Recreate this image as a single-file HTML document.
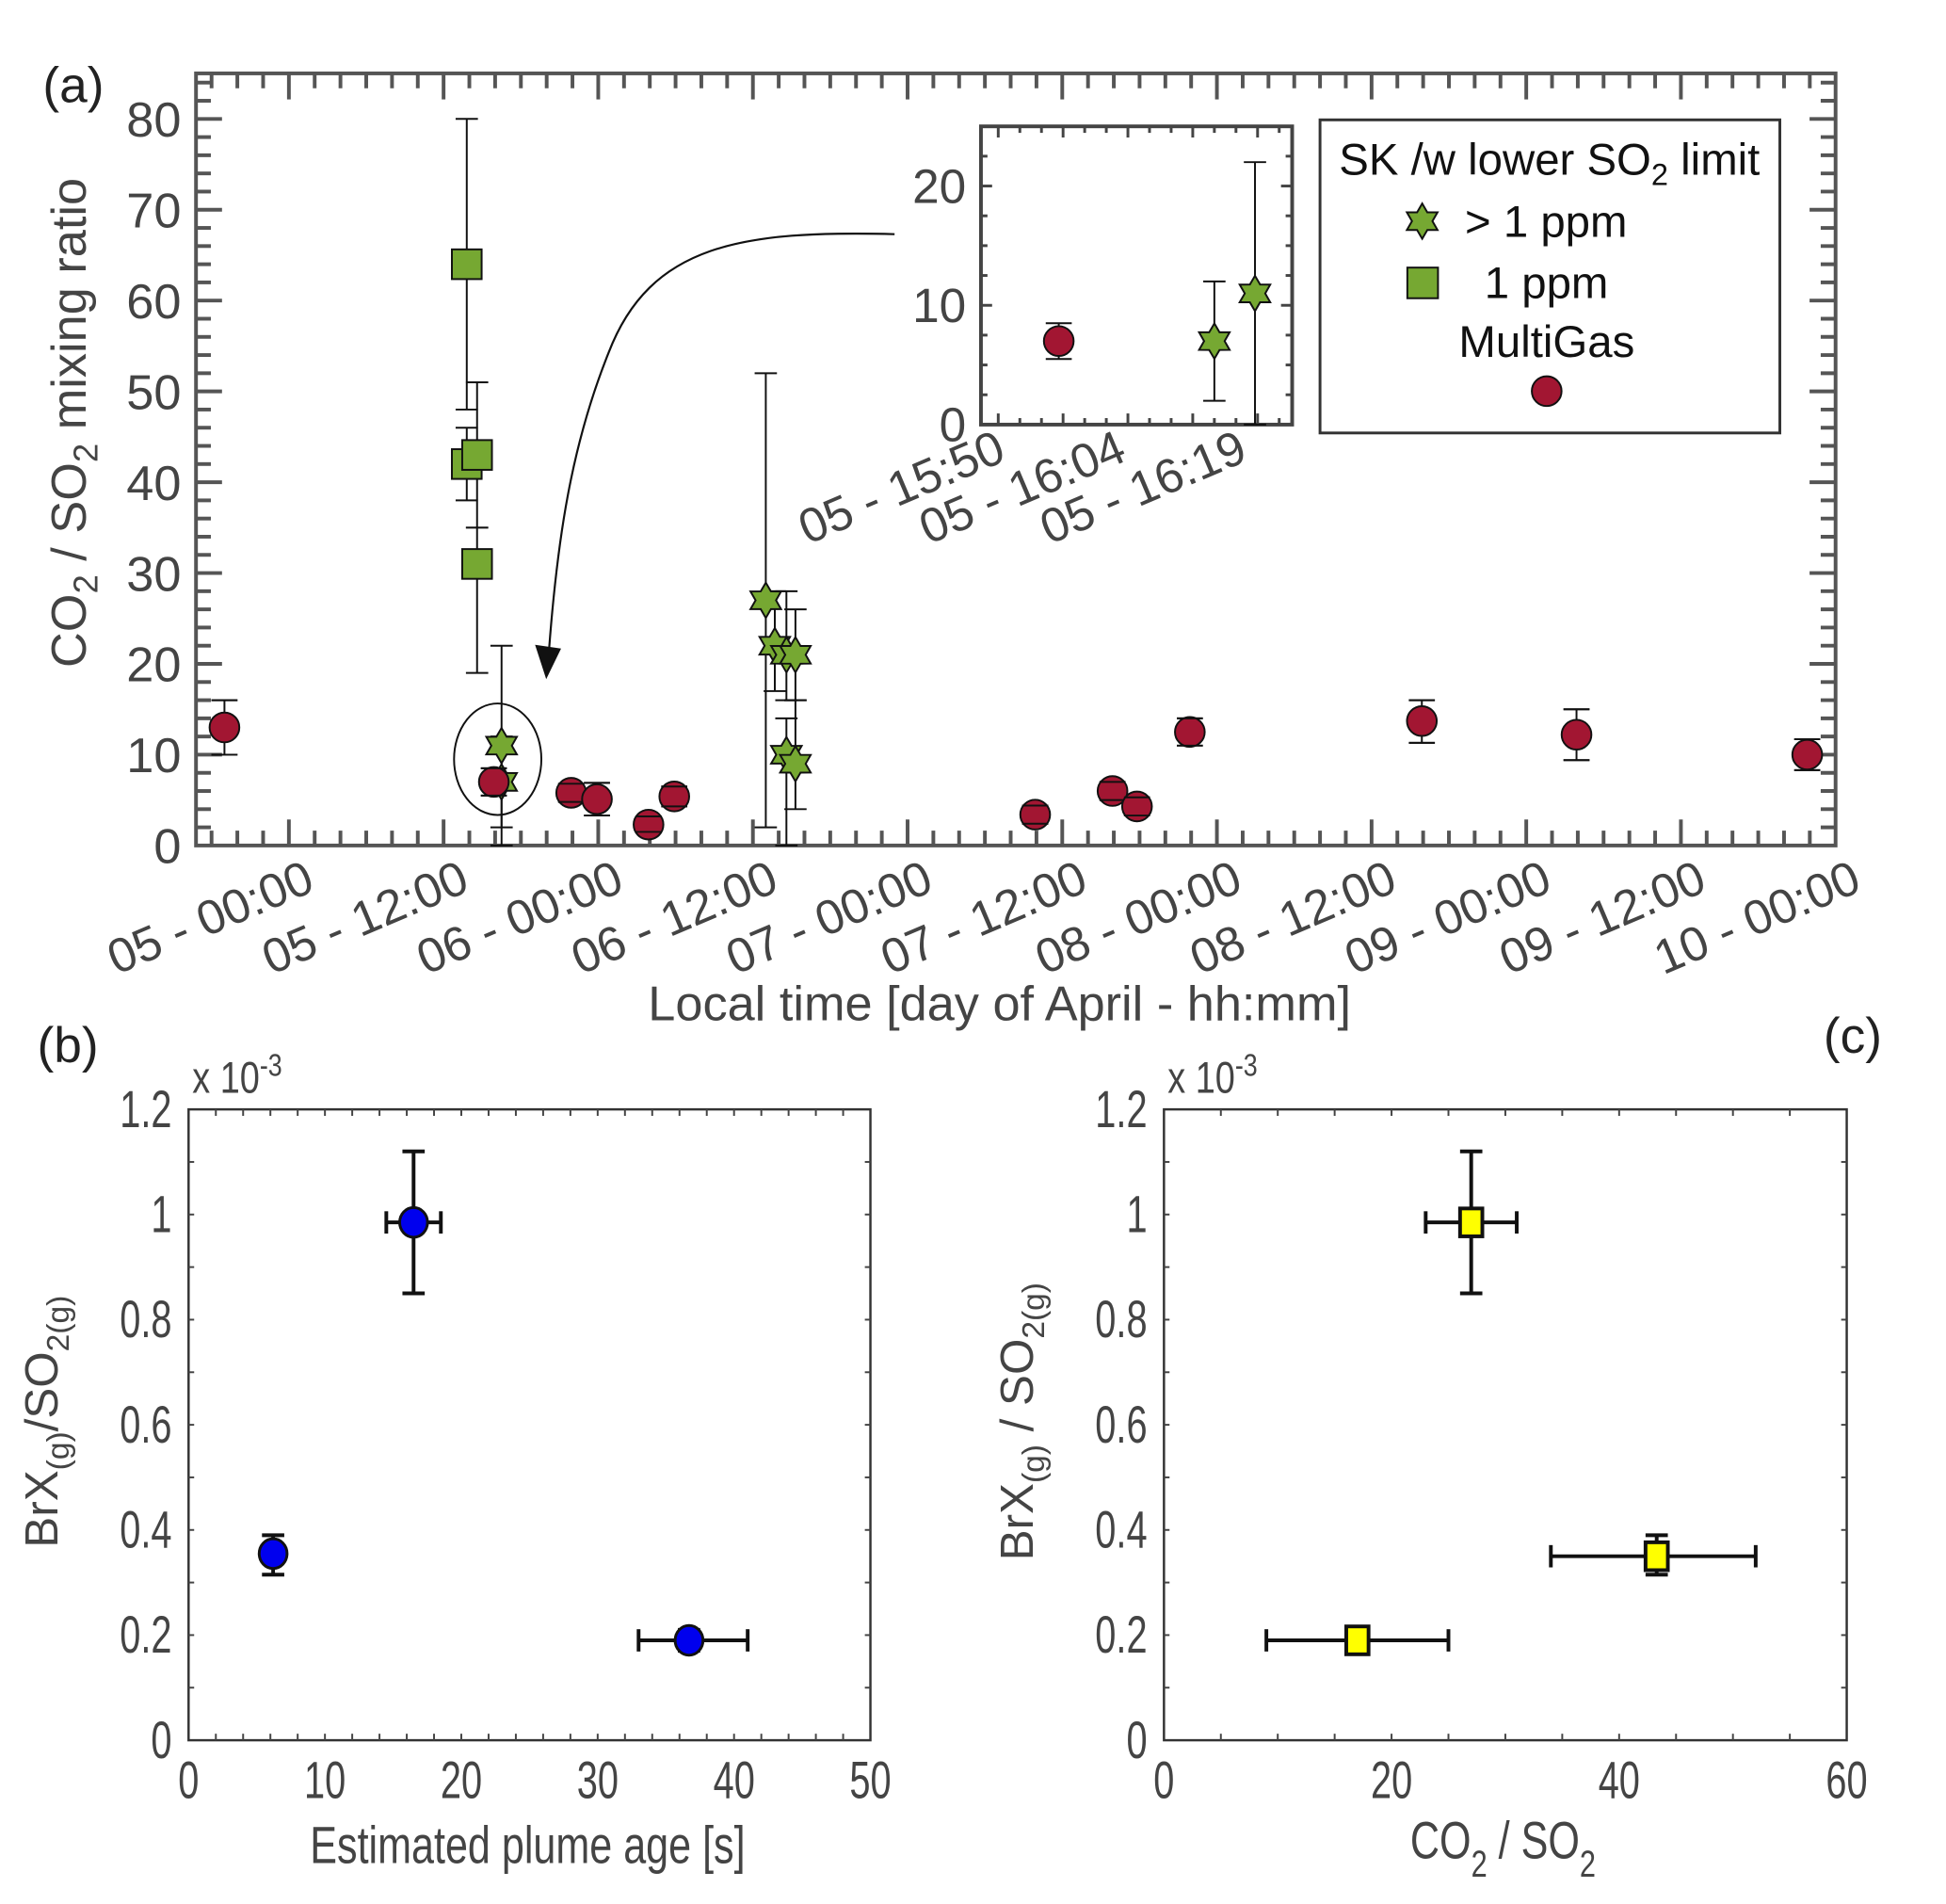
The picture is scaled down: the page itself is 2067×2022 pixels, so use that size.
<!DOCTYPE html>
<html><head><meta charset="utf-8"><style>
html,body{margin:0;padding:0;background:#fff}
svg{display:block}
text{font-family:"Liberation Sans",sans-serif}
.narrow{font-family:"Liberation Sans Narrow","Liberation Sans",sans-serif}
</style></head><body>
<svg id="fig" width="2067" height="2022" viewBox="0 0 2067 2022" xmlns="http://www.w3.org/2000/svg">
<g transform="scale(0.9867)">
<g id="gA"></g>
<g id="gI"></g>
<g id="gB"></g>
<g id="gC"></g>
</g>
</svg>
<script>
// ---- Panel (a) data: hours since 05 April 00:00 ----
const redHours = [-5.0, 15.9, 21.9, 23.9, 27.9, 29.9, 57.9, 63.9, 65.8, 69.9, 87.9, 99.9, 117.8];
const redVals  = [13, 7, 5.8, 5.1, 2.3, 5.4, 3.4, 6.0, 4.3, 12.5, 13.7, 12.2, 10.0];
const redLo    = [10, 5.5, 4.8, 3.3, 1.5, 4.3, 2.4, 5.0, 3.3, 11, 11.3, 9.4, 8.3];
const redHi    = [16, 8.5, 6.8, 6.9, 3.2, 6.5, 4.4, 7.0, 5.3, 14, 16, 15, 11.7];
const sqHours  = [13.8, 13.8, 14.6, 14.6];
const sqVals   = [64, 42, 43, 31];
const sqLo     = [48, 38, 35, 19];
const sqHi     = [80, 46, 51, 35];
const starHours= [16.5, 16.5, 37.0, 37.7, 38.6, 39.3, 38.6, 39.3];
const starVals = [7, 11, 27, 22, 21, 21, 10, 9];
const starLo   = [2, 0, 2, 17, 16, 16, 0, 4];
const starHi   = [12, 22, 52, 28, 28, 26, 14, 16];
const xTickLabels = ["05 - 00:00","05 - 12:00","06 - 00:00","06 - 12:00","07 - 00:00","07 - 12:00","08 - 00:00","08 - 12:00","09 - 00:00","09 - 12:00","10 - 00:00"];
const yTicksA = [0,10,20,30,40,50,60,70,80];
// ---- Inset data: minutes after 15:45 on 05 April ----
const insetRedMin = [9];
const insetRedVal = [7]; const insetRedLo=[5.5]; const insetRedHi=[8.5];
const insetStarMin = [27, 31.7];
const insetStarVal = [7, 11]; const insetStarLo=[2, 0]; const insetStarHi=[12, 22];
const insetXTickMin = [5, 19, 34];
const insetXTickLabels = ["05 - 15:50","05 - 16:04","05 - 16:19"];
const insetYTicks = [0,10,20];
// ---- Panel (b) ----
const bAge = [6.2, 16.5, 36.7];
const bAgeLo=[5.6, 14.5, 33]; const bAgeHi=[6.8, 18.5, 41];
const bRatio=[0.355, 0.985, 0.19];
const bRatioLo=[0.315, 0.85, 0.17]; const bRatioHi=[0.39, 1.12, 0.21];
const bXTicks=[0,10,20,30,40,50];
const yTicksB=[0,0.2,0.4,0.6,0.8,1,1.2];
const yTickLabelsB=["0","0.2","0.4","0.6","0.8","1","1.2"];
// ---- Panel (c) ----
const cCO2=[27, 43.3, 17];
const cCO2Lo=[23, 34, 9]; const cCO2Hi=[31, 52, 25];
const cRatio=[0.985, 0.35, 0.19];
const cRatioLo=[0.85, 0.315, 0.17]; const cRatioHi=[1.12, 0.39, 0.21];
const cXTicks=[0,20,40,60];

const NS="http://www.w3.org/2000/svg";
function mk(parent,tag,attrs,txt){const e=document.createElementNS(NS,tag);for(const k in attrs)e.setAttribute(k,attrs[k]);if(txt!==undefined)e.textContent=txt;parent.appendChild(e);return e;}

// ===== Panel A =====
const A={l:211,r:1976,t:79,b:910};
const xA=h=>311+h*166.5/12;
const yA=v=>910-v*9.775;
const gA=document.getElementById('gA');
let el;
el=mk(gA,'rect',{x:A.l,y:A.t,width:A.r-A.l,height:A.b-A.t,fill:'none',stroke:'#555','stroke-width':4});


for(let h=-6;h<=120;h+=2){const x=xA(h);if(x<A.l+2||x>A.r-2)continue;const L=(h%12===0)?28:16;
 mk(gA,'line',{x1:x,x2:x,y1:A.b,y2:A.b-L,stroke:'#555','stroke-width':4});
 mk(gA,'line',{x1:x,x2:x,y1:A.t,y2:A.t+L,stroke:'#555','stroke-width':4});}
for(let v=2;v<=84;v+=2){const y=yA(v);const L=(v%10===0)?28:16;
 mk(gA,'line',{x1:A.l,x2:A.l+L,y1:y,y2:y,stroke:'#555','stroke-width':4});
 mk(gA,'line',{x1:A.r,x2:A.r-L,y1:y,y2:y,stroke:'#555','stroke-width':4});}
yTicksA.forEach(v=>{el=mk(gA,'text',{x:A.l-16,y:yA(v)+19,'text-anchor':'end','font-size':53,fill:'#444'},String(v));
 
 });
xTickLabels.forEach((s,i)=>{const x=xA(i*12)+30,y=A.b+48;
 el=mk(gA,'text',{x:x,y:y,'text-anchor':'end','font-size':52,fill:'#444',transform:`rotate(-23 ${x} ${y})`},s);
 
 });
el=mk(gA,'text',{x:1076,y:1098,'text-anchor':'middle','font-size':53,fill:'#444'},'Local time [day of April - hh:mm]');


el=mk(gA,'text',{x:0,y:0,'text-anchor':'middle','font-size':53,fill:'#444',transform:'translate(92 455) rotate(-90)'});


el.innerHTML='CO<tspan font-size="37" dy="13">2</tspan><tspan dy="-13"> / SO</tspan><tspan font-size="37" dy="13">2</tspan><tspan dy="-13"> mixing ratio</tspan>';
el=mk(gA,'text',{x:46,y:110,'font-size':54,fill:'#222'},'(a)');



function errV(g,x,lo,hi,w,sw){mk(g,'line',{x1:x,x2:x,y1:lo,y2:hi,stroke:'#111','stroke-width':sw});
 mk(g,'line',{x1:x-w,x2:x+w,y1:lo,y2:lo,stroke:'#111','stroke-width':sw});
 mk(g,'line',{x1:x-w,x2:x+w,y1:hi,y2:hi,stroke:'#111','stroke-width':sw});}
function errH(g,y,lo,hi,w,sw){mk(g,'line',{x1:lo,x2:hi,y1:y,y2:y,stroke:'#111','stroke-width':sw});
 mk(g,'line',{x1:lo,x2:lo,y1:y-w,y2:y+w,stroke:'#111','stroke-width':sw});
 mk(g,'line',{x1:hi,x2:hi,y1:y-w,y2:y+w,stroke:'#111','stroke-width':sw});}
function starPts(cx,cy,R){let p=[];for(let k=0;k<12;k++){const r=k%2?R*0.58:R;const a=-Math.PI/2+k*Math.PI/6;p.push((cx+r*Math.cos(a)).toFixed(1)+','+(cy+r*Math.sin(a)).toFixed(1));}return p.join(' ');}

el=mk(gA,'ellipse',{cx:xA(16.2),cy:yA(9.5),rx:47,ry:60,fill:'none',stroke:'#111','stroke-width':2});


el=mk(gA,'path',{d:'M963,252 C800,248 700,262 655,380 C615,480 600,580 591,700',fill:'none',stroke:'#111','stroke-width':2.2});


mk(gA,'polygon',{points:'588,731 576,694 604,698',fill:'#111'});

sqHours.forEach((h,i)=>{const x=xA(h);errV(gA,x,yA(sqLo[i]),yA(sqHi[i]),12,2);});
starHours.forEach((h,i)=>{const x=xA(h);errV(gA,x,yA(starLo[i]),yA(starHi[i]),12,2);});
redHours.forEach((h,i)=>{const x=xA(h);errV(gA,x,yA(redLo[i]),yA(redHi[i]),14,2);});
sqHours.forEach((h,i)=>{el=mk(gA,'rect',{x:xA(h)-16,y:yA(sqVals[i])-16,width:32,height:32,fill:'#76a832',stroke:'#111','stroke-width':2});
 
 });
starHours.forEach((h,i)=>{el=mk(gA,'polygon',{points:starPts(xA(h),yA(starVals[i]),19),fill:'#76a832',stroke:'#111','stroke-width':2});
 
 });
redHours.forEach((h,i)=>{el=mk(gA,'circle',{cx:xA(h),cy:yA(redVals[i]),r:16,fill:'#a21632',stroke:'#111','stroke-width':2});
 
 
 mk(gA,'line',{x1:xA(h)-14,x2:xA(h)+14,y1:yA(redLo[i]),y2:yA(redLo[i]),stroke:'#111','stroke-width':2});
 mk(gA,'line',{x1:xA(h)-14,x2:xA(h)+14,y1:yA(redHi[i]),y2:yA(redHi[i]),stroke:'#111','stroke-width':2});});

// legend
const gL=mk(gA,'g',{});


mk(gL,'rect',{x:1421,y:129,width:495,height:337,fill:'#fff',stroke:'#333','stroke-width':3});
el=mk(gL,'text',{x:1668,y:188,'text-anchor':'middle','font-size':48,fill:'#111'});
el.innerHTML='SK /w lower SO<tspan font-size="33" dy="11">2</tspan><tspan dy="-11"> limit</tspan>';


mk(gL,'polygon',{points:starPts(1531,238,19),fill:'#76a832',stroke:'#111','stroke-width':2});
el=mk(gL,'text',{x:1577,y:255,'font-size':48,fill:'#111'},'> 1 ppm');


mk(gL,'rect',{x:1515,y:288,width:33,height:33,fill:'#76a832',stroke:'#111','stroke-width':2});
el=mk(gL,'text',{x:1598,y:321,'font-size':48,fill:'#111'},'1 ppm');


el=mk(gL,'text',{x:1665,y:384,'text-anchor':'middle','font-size':48,fill:'#111'},'MultiGas');


mk(gL,'circle',{cx:1665,cy:421,r:16,fill:'#a21632',stroke:'#111','stroke-width':2});

// ===== Inset =====
const gI=document.getElementById('gI');
const I={l:1056,r:1391,t:136,b:457};
const xI=m=>I.l+m*(I.r-I.l)/36;
const yI=v=>I.b-v*12.84;
mk(gI,'rect',{x:I.l,y:I.t,width:I.r-I.l,height:I.b-I.t,fill:'#fff',stroke:'#444','stroke-width':4});
for(let m=2;m<36;m+=2.5){const x=xI(m);const L=((m-2)%7.5===0)?12:7;
 mk(gI,'line',{x1:x,x2:x,y1:I.b,y2:I.b-L,stroke:'#444','stroke-width':3});
 mk(gI,'line',{x1:x,x2:x,y1:I.t,y2:I.t+L,stroke:'#444','stroke-width':3});}
for(let v=2.5;v<25;v+=2.5){const y=yI(v);const L=(v%10===0)?12:7;
 mk(gI,'line',{x1:I.l,x2:I.l+L,y1:y,y2:y,stroke:'#444','stroke-width':3});
 mk(gI,'line',{x1:I.r,x2:I.r-L,y1:y,y2:y,stroke:'#444','stroke-width':3});}
insetYTicks.forEach(v=>{el=mk(gI,'text',{x:I.l-16,y:yI(v)+18,'text-anchor':'end','font-size':52,fill:'#444'},String(v));
 
 });
insetXTickMin.forEach((m,i)=>{const x=1085+i*130,y=495;
 el=mk(gI,'text',{x:x,y:y,'text-anchor':'end','font-size':52,fill:'#444',transform:`rotate(-23 ${x} ${y})`},insetXTickLabels[i]);
 
 });
insetStarMin.forEach((m,i)=>errV(gI,xI(m),yI(insetStarLo[i]),yI(insetStarHi[i]),12,2));
insetRedMin.forEach((m,i)=>{errV(gI,xI(m),yI(insetRedLo[i]),yI(insetRedHi[i]),14,2);
 el=mk(gI,'circle',{cx:xI(m),cy:yI(insetRedVal[i]),r:16,fill:'#a21632',stroke:'#111','stroke-width':2});
 
 });
insetStarMin.forEach((m,i)=>{el=mk(gI,'polygon',{points:starPts(xI(m),yI(insetStarVal[i]),19),fill:'#76a832',stroke:'#111','stroke-width':2});
 
 });

// ===== Bottom panels =====
function sx(x,k){return `translate(${x} 0) scale(${k} 1) translate(${-x} 0)`;}
function bottomAxes(g,P,xmax,xTicks,minorStep){
 mk(g,'rect',{x:P.l,y:P.t,width:P.r-P.l,height:P.b-P.t,fill:'none',stroke:'#333','stroke-width':2.5});
 const xs=v=>P.l+v*(P.r-P.l)/xmax, ys=v=>P.b-v/1.2*(P.b-P.t);
 for(let v=minorStep;v<xmax;v+=minorStep){const x=xs(v);mk(g,'line',{x1:x,x2:x,y1:P.b,y2:P.b-7,stroke:'#444','stroke-width':2});mk(g,'line',{x1:x,x2:x,y1:P.t,y2:P.t+7,stroke:'#444','stroke-width':2});}
 for(let v=0.1;v<1.2;v+=0.1){const y=ys(v);mk(g,'line',{x1:P.l,x2:P.l+6,y1:y,y2:y,stroke:'#444','stroke-width':2});mk(g,'line',{x1:P.r,x2:P.r-6,y1:y,y2:y,stroke:'#444','stroke-width':2});}
 yTicksB.forEach((v,i)=>{el=mk(g,'text',{x:P.l-18,y:ys(v)+19,'text-anchor':'end','font-size':56,fill:'#444',class:'narrow',transform:sx(P.l-18,0.72)},yTickLabelsB[i]);
  
  });
 xTicks.forEach(v=>{const x=xs(v);el=mk(g,'text',{x:x,y:P.b+62,'text-anchor':'middle','font-size':56,fill:'#444',class:'narrow',transform:sx(x,0.72)},String(v));
  
  });
 el=mk(g,'text',{x:P.l+4,y:1176,'font-size':48,fill:'#444',transform:sx(P.l+4,0.8)});
 el.innerHTML='x 10<tspan font-size="34" dy="-18">-3</tspan>';
 
 
 return [xs,ys];
}
const gB=document.getElementById('gB');
const PB={l:203,r:937,t:1194,b:1873};
const [xB,yB]=bottomAxes(gB,PB,50,bXTicks,2);
el=mk(gB,'text',{x:568,y:2005,'text-anchor':'middle','font-size':56,fill:'#444',transform:sx(568,0.78)},'Estimated plume age [s]');


el=mk(gB,'text',{x:0,y:0,'text-anchor':'middle','font-size':50,fill:'#444',transform:'translate(62 1530) rotate(-90)'});
el.innerHTML='BrX<tspan font-size="34" dy="12">(g)</tspan><tspan dy="-12">/SO</tspan><tspan font-size="34" dy="12">2(g)</tspan>';


el=mk(gB,'text',{x:40,y:1143,'font-size':54,fill:'#222'},'(b)');


bAge.forEach((a,i)=>{errV(gB,xB(a),yB(bRatioLo[i]),yB(bRatioHi[i]),12,4);errH(gB,yB(bRatio[i]),xB(bAgeLo[i]),xB(bAgeHi[i]),12,4);
 el=mk(gB,'ellipse',{cx:xB(a),cy:yB(bRatio[i]),rx:15,ry:16,fill:'#0000ee',stroke:'#111','stroke-width':3});
 
 });

const gC=document.getElementById('gC');
const PC={l:1253,r:1988,t:1194,b:1873};
const [xC,yC]=bottomAxes(gC,PC,60,cXTicks,5);
el=mk(gC,'text',{x:1618,y:2000,'text-anchor':'middle','font-size':56,fill:'#444',transform:sx(1618,0.78)});
el.innerHTML='CO<tspan font-size="40" dy="20">2</tspan><tspan dy="-20"> / SO</tspan><tspan font-size="40" dy="20">2</tspan>';


el=mk(gC,'text',{x:0,y:0,'text-anchor':'middle','font-size':50,fill:'#444',transform:'translate(1112 1530) rotate(-90)'});
el.innerHTML='BrX<tspan font-size="34" dy="12">(g)</tspan><tspan dy="-12">  / SO</tspan><tspan font-size="34" dy="12">2(g)</tspan>';


el=mk(gC,'text',{x:1963,y:1133,'font-size':54,fill:'#222'},'(c)');


cCO2.forEach((c,i)=>{errV(gC,xC(c),yC(cRatioLo[i]),yC(cRatioHi[i]),12,4);errH(gC,yC(cRatio[i]),xC(cCO2Lo[i]),xC(cCO2Hi[i]),12,4);
 el=mk(gC,'rect',{x:xC(c)-12,y:yC(cRatio[i])-15,width:24,height:30,fill:'#ffff00',stroke:'#111','stroke-width':4});
 
 });
</script>
</body></html>
